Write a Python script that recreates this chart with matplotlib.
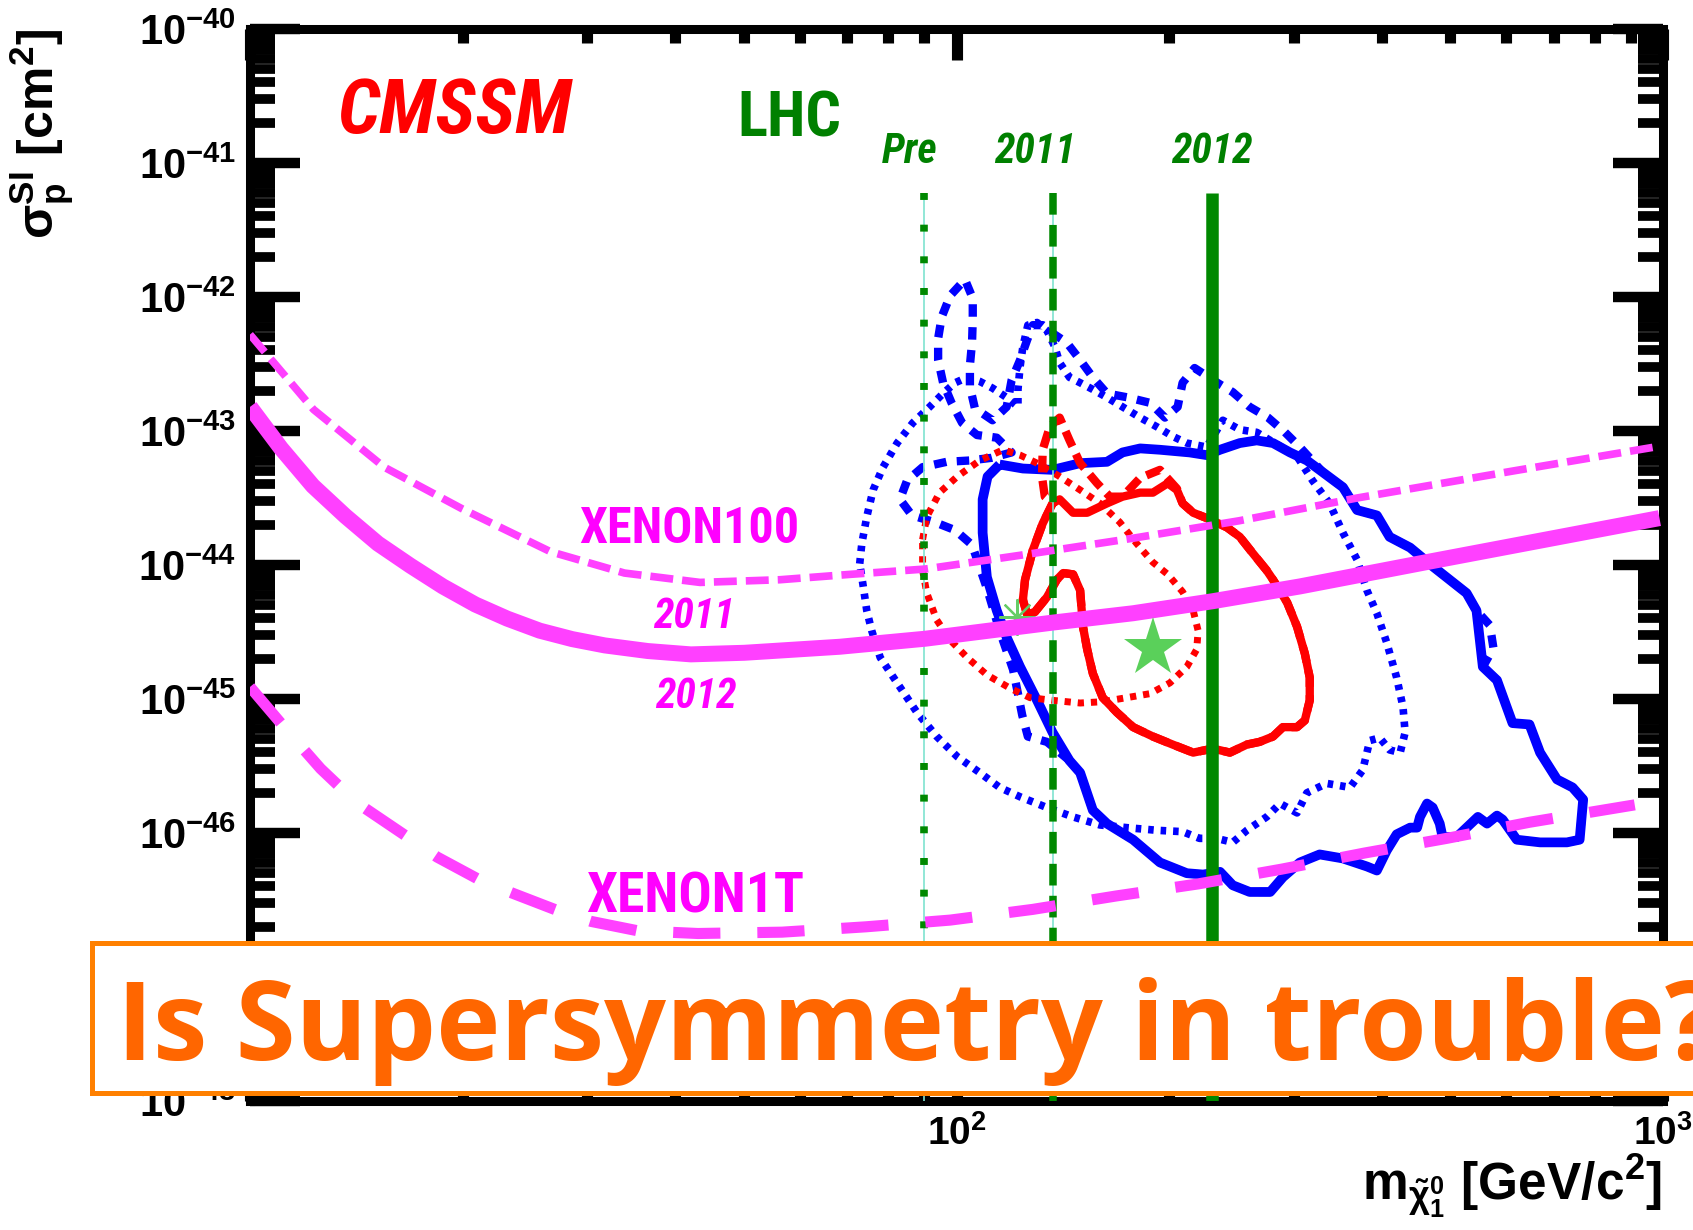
import numpy as np
import matplotlib
matplotlib.use('Agg')
import matplotlib.pyplot as plt
from matplotlib import font_manager
from matplotlib.ticker import LogLocator, FuncFormatter, NullFormatter, FixedLocator
from matplotlib.patches import Rectangle

plt.rcParams['font.family'] = ['Liberation Sans', 'DejaVu Sans']
plt.rcParams['mathtext.fontset'] = 'custom'
plt.rcParams['mathtext.rm'] = 'Liberation Sans:bold'
plt.rcParams['mathtext.bf'] = 'Liberation Sans:bold'
plt.rcParams['mathtext.it'] = 'Liberation Sans:bold:italic'
plt.rcParams['lines.scale_dashes'] = False
plt.rcParams['lines.solid_capstyle'] = 'butt'
plt.rcParams['lines.dash_capstyle'] = 'butt'


def narrow_font():
    """Return text kwargs for a narrow bold sans, and a size factor."""
    fonts = font_manager.fontManager.ttflist
    for want in ['Liberation Sans Narrow', 'Arial Narrow', 'Roboto Condensed',
                 'Noto Sans Condensed', 'DejaVu Sans Condensed', 'Open Sans Condensed']:
        if any(f.name == want for f in fonts):
            return dict(family=want), 1.0
    for f in fonts:
        if f.stretch in ('condensed', 'semi-condensed', 'extra-condensed') and \
                f.name in ('Liberation Sans', 'Noto Sans', 'Roboto', 'DejaVu Sans', 'Open Sans'):
            return dict(family=f.name, stretch='condensed'), 1.0
    return dict(family='Liberation Sans'), 0.86


NARROW, NSCALE = narrow_font()

# direct detection limits: log10(mass / GeV), log10(sigma / cm^2)
x100_2011_lm = [1.0, 1.09, 1.19, 1.30, 1.425, 1.53, 1.637, 1.75, 1.849, 1.956,
                2.10, 2.25, 2.40, 2.567, 2.786, 2.988]
x100_2011_ls = [-42.28, -42.84, -43.27, -43.58, -43.90, -44.06, -44.13, -44.11, -44.07, -44.03,
                -43.92, -43.80, -43.67, -43.50, -43.30, -43.12]

x100_2012_lm = [1.0, 1.044, 1.089, 1.135, 1.181, 1.227, 1.273, 1.319, 1.364, 1.410, 1.456,
                1.502, 1.563, 1.624, 1.70, 1.835, 1.956, 2.136, 2.25, 2.363, 2.486, 2.664, 2.995]
x100_2012_ls = [-42.82, -43.13, -43.41, -43.635, -43.84, -44.005, -44.16, -44.295, -44.40, -44.49,
                -44.553, -44.60, -44.642, -44.667, -44.655, -44.61, -44.55, -44.43, -44.36, -44.27,
                -44.16, -43.98, -43.65]

x1t_lm = [1.0, 1.05, 1.10, 1.15, 1.223, 1.265, 1.325, 1.372, 1.436, 1.483, 1.549, 1.634,
          1.753, 1.872, 1.991, 2.108, 2.226, 2.342, 2.460, 2.577, 2.694, 2.811, 2.96]
x1t_ls = [-44.91, -45.22, -45.52, -45.77, -46.03, -46.18, -46.35, -46.45, -46.58, -46.66, -46.73, -46.75,
          -46.74, -46.70, -46.65, -46.57, -46.47, -46.38, -46.27, -46.15, -46.04, -45.92, -45.79]

# LHC exclusion lines (GeV)
lhc_mass = [90, 137, 230]
lhc_names = ['Pre', '2011', '2012']
lhc_top = 6.0e-42

# CMSSM contours, (log10 m, log10 sigma)
blue_solid = [(2.061, -43.25), (2.094, -43.28), (2.136, -43.29), (2.175, -43.24), (2.213, -43.23),
              (2.235, -43.16), (2.260, -43.13), (2.288, -43.14), (2.330, -43.16), (2.354, -43.18),
              (2.373, -43.14), (2.401, -43.09), (2.425, -43.07), (2.448, -43.09), (2.472, -43.16),
              (2.496, -43.22), (2.519, -43.31), (2.547, -43.42), (2.567, -43.59), (2.595, -43.63),
              (2.613, -43.79), (2.642, -43.87), (2.674, -44.01), (2.722, -44.21), (2.736, -44.34),
              (2.745, -44.76), (2.765, -44.86), (2.787, -45.18), (2.811, -45.19), (2.826, -45.40),
              (2.850, -45.60), (2.872, -45.66), (2.887, -45.75), (2.882, -46.05), (2.864, -46.07),
              (2.826, -46.07), (2.793, -46.05), (2.773, -45.90), (2.765, -45.87), (2.751, -45.93),
              (2.738, -45.88), (2.722, -45.96), (2.708, -46.03), (2.688, -46.03), (2.684, -45.93),
              (2.674, -45.81), (2.666, -45.78), (2.656, -45.88), (2.652, -45.96), (2.642, -45.96),
              (2.623, -46.01), (2.609, -46.13), (2.595, -46.28), (2.581, -46.25), (2.547, -46.19),
              (2.514, -46.16), (2.486, -46.22), (2.462, -46.33), (2.444, -46.44), (2.415, -46.44),
              (2.391, -46.39), (2.373, -46.29), (2.349, -46.31), (2.326, -46.30), (2.288, -46.22),
              (2.250, -46.05), (2.213, -45.93), (2.193, -45.83), (2.175, -45.55), (2.160, -45.46),
              (2.136, -45.25), (2.114, -45.01), (2.090, -44.76), (2.071, -44.54), (2.057, -44.34),
              (2.043, -44.09), (2.037, -43.76), (2.037, -43.51), (2.044, -43.34), (2.061, -43.25)]

# 2011 contour: own branch on the upper left, shares the rest with 2012
blue_dash_own = [(2.160, -45.46), (2.128, -45.32), (2.101, -45.28), (2.093, -45.12), (2.087, -44.96),
                 (2.080, -44.78), (2.061, -44.49), (2.044, -44.19), (2.022, -43.85), (1.998, -43.74),
                 (1.969, -43.68), (1.937, -43.63), (1.920, -43.51), (1.930, -43.37), (1.952, -43.27),
                 (1.986, -43.23), (2.019, -43.22), (2.050, -43.20), (2.078, -43.16), (2.057, -43.05),
                 (2.029, -43.03), (2.008, -42.94), (1.993, -42.79), (1.981, -42.64), (1.974, -42.47),
                 (1.974, -42.31), (1.979, -42.15), (1.991, -41.99), (2.012, -41.87), (2.023, -42.01),
                 (2.023, -42.17), (2.022, -42.34), (2.019, -42.51), (2.019, -42.67), (2.026, -42.83),
                 (2.051, -42.92), (2.071, -42.82), (2.078, -42.62), (2.090, -42.47), (2.100, -42.32),
                 (2.108, -42.21), (2.122, -42.21), (2.136, -42.27), (2.156, -42.34), (2.175, -42.47),
                 (2.193, -42.60), (2.213, -42.72), (2.243, -42.75), (2.274, -42.79), (2.295, -42.90),
                 (2.313, -42.82), (2.320, -42.64), (2.337, -42.53), (2.363, -42.62), (2.391, -42.71),
                 (2.415, -42.82), (2.441, -42.90), (2.465, -43.01), (2.486, -43.12)]
blue_dash_bump = [(2.755, -44.45), (2.760, -44.62)]

blue_dot = [(1.863, -43.99), (1.866, -43.84), (1.873, -43.64), (1.882, -43.44), (1.896, -43.27),
            (1.916, -43.09), (1.938, -42.94), (1.962, -42.82), (1.981, -42.72), (1.998, -42.64),
            (2.015, -42.60), (2.033, -42.63), (2.051, -42.68), (2.071, -42.75), (2.087, -42.82),
            (2.087, -42.69), (2.090, -42.52), (2.094, -42.37), (2.101, -42.21), (2.114, -42.19),
            (2.128, -42.25), (2.139, -42.37), (2.146, -42.49), (2.160, -42.60), (2.175, -42.64),
            (2.193, -42.69), (2.213, -42.75), (2.235, -42.82), (2.260, -42.90), (2.284, -42.97),
            (2.306, -43.04), (2.326, -43.09), (2.354, -43.12), (2.377, -42.92), (2.401, -42.99),
            (2.425, -43.01), (2.444, -43.07), (2.482, -43.19), (2.504, -43.37), (2.528, -43.54),
            (2.547, -43.76), (2.567, -43.96), (2.581, -44.19), (2.595, -44.36), (2.609, -44.58),
            (2.623, -44.84), (2.632, -45.06), (2.635, -45.25), (2.628, -45.40), (2.613, -45.38),
            (2.599, -45.29), (2.585, -45.31), (2.575, -45.53), (2.557, -45.66), (2.524, -45.63),
            (2.496, -45.70), (2.482, -45.85), (2.458, -45.78), (2.439, -45.88), (2.411, -45.98),
            (2.391, -46.07), (2.368, -46.04), (2.344, -46.04), (2.320, -45.99), (2.284, -45.98),
            (2.241, -45.96), (2.203, -45.94), (2.165, -45.88), (2.128, -45.81), (2.090, -45.73),
            (2.061, -45.66), (2.033, -45.55), (2.001, -45.43), (1.972, -45.28), (1.944, -45.10),
            (1.916, -44.88), (1.892, -44.69), (1.880, -44.49), (1.873, -44.34), (1.868, -44.16),
            (1.863, -43.99)]

red_solid = [(2.136, -43.54), (2.122, -43.69), (2.108, -43.89), (2.097, -44.11), (2.094, -44.26),
             (2.100, -44.37), (2.111, -44.35), (2.128, -44.24), (2.142, -44.11), (2.151, -44.06),
             (2.165, -44.07), (2.175, -44.19), (2.179, -44.46), (2.185, -44.63), (2.193, -44.81),
             (2.207, -44.99), (2.227, -45.10), (2.250, -45.21), (2.278, -45.28), (2.306, -45.34),
             (2.335, -45.40), (2.363, -45.37), (2.387, -45.40), (2.411, -45.34), (2.429, -45.32),
             (2.448, -45.28), (2.462, -45.21), (2.482, -45.21), (2.493, -45.16), (2.500, -45.01),
             (2.500, -44.84), (2.493, -44.66), (2.482, -44.46), (2.468, -44.28), (2.448, -44.11),
             (2.439, -44.04), (2.419, -43.91), (2.401, -43.79), (2.383, -43.72), (2.359, -43.66),
             (2.335, -43.61), (2.320, -43.54), (2.312, -43.44), (2.299, -43.39), (2.278, -43.46),
             (2.260, -43.46), (2.235, -43.49), (2.213, -43.54), (2.185, -43.61), (2.165, -43.61),
             (2.146, -43.51), (2.136, -43.54)]

red_dash_top = [(2.312, -43.43), (2.288, -43.29), (2.260, -43.35), (2.235, -43.49), (2.217, -43.49),
                (2.199, -43.39), (2.175, -43.24), (2.160, -43.07), (2.146, -42.90), (2.132, -42.97),
                (2.122, -43.14), (2.121, -43.34), (2.125, -43.49), (2.136, -43.54)]

red_dot = [(1.952, -43.81), (1.958, -43.64), (1.976, -43.46), (2.001, -43.34), (2.033, -43.22),
           (2.066, -43.14), (2.090, -43.18), (2.118, -43.25), (2.146, -43.34), (2.175, -43.44),
           (2.203, -43.54), (2.231, -43.68), (2.255, -43.84), (2.278, -43.98), (2.299, -44.07),
           (2.320, -44.20), (2.335, -44.34), (2.342, -44.49), (2.340, -44.63), (2.326, -44.76),
           (2.302, -44.88), (2.274, -44.96), (2.241, -44.99), (2.207, -45.02), (2.175, -45.03),
           (2.136, -45.01), (2.104, -44.99), (2.076, -44.92), (2.043, -44.82), (2.015, -44.69),
           (1.991, -44.56), (1.972, -44.41), (1.958, -44.21), (1.952, -44.04), (1.952, -43.81)]

best_fit_2012 = (2.278, -44.62)
best_fit_pre = (2.085, -44.39)

MAGENTA = '#FF40FF'
GREEN = '#008800'

fig = plt.figure(figsize=(16.93, 12.30), dpi=100)
fig.patch.set_facecolor('white')
ax = fig.add_axes([0.14767, 0.10488, 0.83461, 0.87154])
ax.set_xscale('log')
ax.set_yscale('log')


def draw(path, **kw):
    arr = np.array(path)
    ax.plot(10 ** arr[:, 0], 10 ** arr[:, 1], **kw)


blue_dash = blue_dash_own + blue_solid[16:25] + blue_dash_bump + blue_solid[25:70]
red_dash = red_solid[:42] + red_dash_top

draw(blue_dot, color='blue', lw=5.5, ls=(0, (4, 5)), zorder=2)
draw(blue_dash, color='blue', lw=6, ls=(0, (9, 7.5)), zorder=2.1)
draw(blue_solid, color='blue', lw=7, zorder=2.2)
draw(red_dot, color='red', lw=5, ls=(0, (4.5, 5)), zorder=2.3)
draw(red_dash, color='red', lw=6, ls=(0, (12, 6)), zorder=2.4)
draw(red_solid, color='red', lw=6, zorder=2.5)

ax.plot(10 ** best_fit_pre[0], 10 ** best_fit_pre[1], marker=(8, 2, 0), ms=26, mew=1.6,
        color='#66CC66', zorder=2.6)
ax.plot(10 ** best_fit_2012[0], 10 ** best_fit_2012[1], marker='*', ms=44, mew=0,
        color='#5AD05A', zorder=5)

# LHC lines
lhc_styles = [dict(lw=5.5, ls=(0, (5, 17.8))),
              dict(lw=5.4, ls=(0, (15.6, 7.4))),
              dict(lw=9, ls='-')]
for m, st in zip(lhc_mass, lhc_styles):
    if st['ls'] != '-':
        ax.plot([m, m], [lhc_top, 1e-48], color='#7FE3D0', lw=1.2, zorder=3)
    ax.plot([m, m], [lhc_top, 1e-48], color=GREEN, zorder=3.1, **st)

# XENON limits
ax.plot(10 ** np.array(x100_2011_lm), 10 ** np.array(x100_2011_ls), color=MAGENTA,
        lw=5.5, ls=(0, (16.5, 6.5)), zorder=4)
ax.plot(10 ** np.array(x100_2012_lm), 10 ** np.array(x100_2012_ls), color=MAGENTA,
        lw=11.5, zorder=4, solid_joinstyle='round')
ax.plot(10 ** np.array(x1t_lm), 10 ** np.array(x1t_ls), color=MAGENTA,
        lw=8, ls=(0, (34, 26.6)), zorder=4)

# labels inside the frame
tr = ax.transAxes
ax.text(0.1448, 0.9030, 'CMSSM', transform=tr, color='red', fontsize=55 * NSCALE,
        fontweight='bold', fontstyle='italic', ha='center', va='baseline', **NARROW)
ax.text(0.3818, 0.8993, 'LHC', transform=tr, color='#008000', fontsize=45 * NSCALE,
        fontweight='bold', ha='center', va='baseline', **NARROW)
for xf, name in zip([0.4671, 0.5552, 0.6805], lhc_names):
    ax.text(xf, 0.875, name, transform=tr, color='#008000', fontsize=30 * NSCALE,
            fontweight='bold', fontstyle='italic', ha='center', va='baseline', **NARROW)
ax.text(0.3110, 0.5205, 'XENON100', transform=tr, color='#FF00FF', fontsize=36 * NSCALE,
        fontweight='bold', ha='center', va='baseline', **NARROW)
ax.text(0.3142, 0.4412, '2011', transform=tr, color='#FF00FF', fontsize=30 * NSCALE,
        fontweight='bold', fontstyle='italic', ha='center', va='baseline', **NARROW)
ax.text(0.3153, 0.3666, '2012', transform=tr, color='#FF00FF', fontsize=30 * NSCALE,
        fontweight='bold', fontstyle='italic', ha='center', va='baseline', **NARROW)
ax.text(0.3149, 0.1763, 'XENON1T', transform=tr, color='#FF00FF', fontsize=40 * NSCALE,
        fontweight='bold', ha='center', va='baseline', **NARROW)

# frame and ticks
for s in ax.spines.values():
    s.set_linewidth(6.5)
ax.set_yticks(10.0 ** np.arange(-48, -39))
ax.yaxis.set_minor_locator(LogLocator(base=10, subs=np.arange(2, 10), numticks=20))
ax.yaxis.set_minor_formatter(NullFormatter())
ax.xaxis.set_major_locator(FixedLocator([10, 100, 1000]))
ax.xaxis.set_minor_locator(LogLocator(base=10, subs=np.arange(2, 10), numticks=20))
ax.xaxis.set_minor_formatter(NullFormatter())
ax.yaxis.set_major_formatter(FuncFormatter(lambda v, p: r'$\mathbf{10^{%d}}$' % round(np.log10(v))))
ax.xaxis.set_major_formatter(FuncFormatter(
    lambda v, p: '' if v < 50 else r'$\mathbf{10^{%d}}$' % round(np.log10(v))))
ax.set_xlim(10, 1000)
ax.set_ylim(1e-48, 1e-40)

ax.tick_params(which='both', direction='in', top=True, right=True, colors='black')
ax.tick_params(axis='y', which='major', length=36, width=7.5, pad=10, labelsize=30)
ax.tick_params(axis='y', which='minor', length=18, width=7)
ax.tick_params(axis='x', which='major', length=22, width=8, pad=10, labelsize=28)
ax.tick_params(axis='x', which='minor', length=10, width=8)

fig.text(76 / 1693, 1 - 29 / 1230, r'$\mathbf{\sigma_{p}^{SI}\ [cm^{2}]}$', rotation=90,
         ha='right', va='top', fontsize=36)
fig.text(1662 / 1693, 1 - 1152 / 1230, r'$\mathbf{m_{\tilde{\chi}^{0}_{1}}\ [GeV/c^{2}]}$',
         ha='right', va='top', fontsize=37)

# banner across the bottom of the frame
fig.add_artist(Rectangle((92 / 1693, 1 - 1093 / 1230), 1.0, 150 / 1230, transform=fig.transFigure,
                         facecolor='white', edgecolor='#FF8000', lw=3.6, zorder=5))
fig.text(117 / 1693, 1 - 1060 / 1230, 'Is Supersymmetry in trouble?', color='#FF6600',
         fontsize=78.5, fontweight='bold', family=['Open Sans', 'DejaVu Sans'],
         ha='left', va='baseline', zorder=6)

fig.savefig('out.png', dpi=100)
